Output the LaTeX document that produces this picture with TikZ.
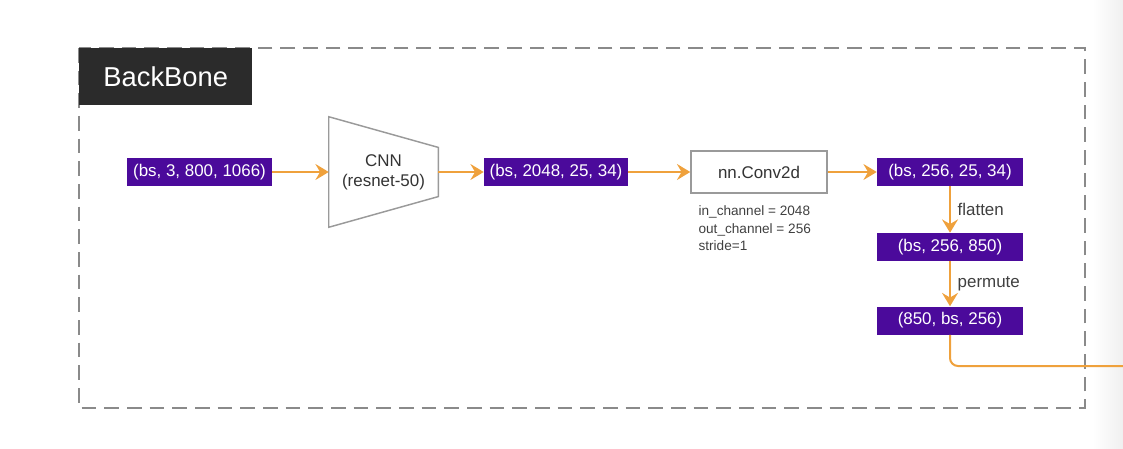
\documentclass[tikz,border=0pt]{standalone}
\usepackage{fontspec}
\setmainfont{Liberation Sans}
\usetikzlibrary{arrows.meta,positioning,calc}
\definecolor{tensorpurple}{HTML}{4B0A9B}
\definecolor{flowange}{HTML}{EFA13C}
\definecolor{framegray}{HTML}{8A8A8A}
\definecolor{boxgray}{HTML}{9A9A9A}
\definecolor{tagdark}{HTML}{2B2B2B}

\begin{document}
\begin{tikzpicture}[
  x=0.75pt,y=-0.75pt,
  font=\fontsize{12.7}{15}\selectfont,
  tensor/.style={fill=tensorpurple,text=white,minimum height=21pt,inner sep=2pt,anchor=center},
  op/.style={draw=boxgray,line width=1.1pt,fill=white,text=black!80,align=center},
  arr/.style={-{Stealth[length=10pt,width=12pt,inset=3.5pt]},line width=1.5pt,flowange},
  lbl/.style={text=black!75,inner sep=1pt},
]
\useasboundingbox (0,0) rectangle (1123,449);
% screen edge shading
\shade[left color=white,right color=black!6] (1092,0) rectangle (1123,449);
% frame
\draw[framegray,line width=1.5pt,dash pattern=on 11pt off 6pt] (79,48) rectangle (1085,408);
\node[fill=tagdark,text=white,font=\fontsize{20.5}{24}\selectfont,minimum width=129.75pt,minimum height=42.75pt,anchor=north west] (tag) at (79,48) {BackBone};
% tensors and ops
\node[tensor,minimum width=108.75pt] (img) at (199.5,172) {(bs, 3, 800, 1066)};
\node[align=center,text=black!80,minimum width=81.75pt,minimum height=82.5pt] (cnn) at (383.5,172) {CNN\\(resnet-50)};
\draw[boxgray,line width=1.1pt] (cnn.north west) -- (cnn.south west) -- ([yshift=23pt]cnn.south east) -- ([yshift=-23pt]cnn.north east) -- cycle;
\node[tensor,minimum width=108pt] (feat) at (556,172) {(bs, 2048, 25, 34)};
\node[op,minimum width=102pt,minimum height=31.5pt] (conv) at (759,172) {nn.Conv2d};
\node[lbl,font=\fontsize{10.2}{13.2}\selectfont,align=left,anchor=north west] (convargs) at (697,204) {in\_channel = 2048\\out\_channel = 256\\stride=1};
\node[tensor,minimum width=109.5pt] (proj) at (950,172) {(bs, 256, 25, 34)};
\node[tensor,minimum width=109.5pt] (flat) at (950,247) {(bs, 256, 850)};
\node[tensor,minimum width=109.5pt] (perm) at (950,320.5) {(850, bs, 256)};
\coordinate (out) at (1123,366);
% connectors
\draw[arr] (img) -- (cnn.west);
\draw[arr] (cnn.east) -- (feat);
\draw[arr] (feat) -- (conv);
\draw[arr] (conv) -- (proj);
\draw[arr] (proj) -- node[lbl,right=4pt] {flatten} (flat);
\draw[arr] (flat) -- node[lbl,right=4pt] {permute} (perm);
\draw[line width=1.5pt,flowange,rounded corners=6pt] (perm) |- (out);
\end{tikzpicture}
\end{document}
